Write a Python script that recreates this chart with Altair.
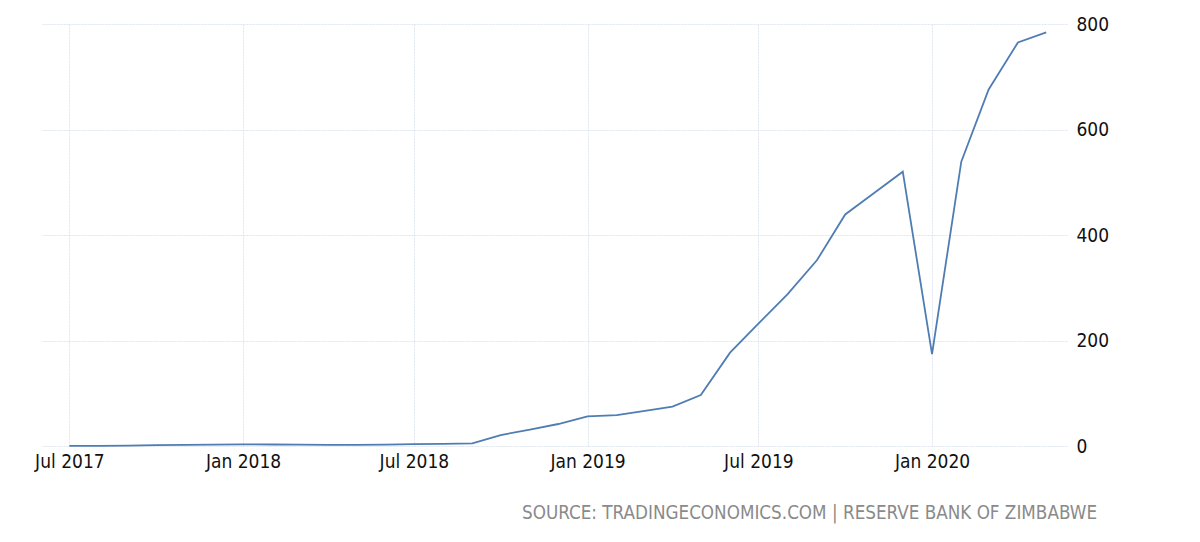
import altair as alt
import pandas as pd

months = [
    "2017-07-01", "2017-08-01", "2017-09-01", "2017-10-01", "2017-11-01", "2017-12-01",
    "2018-01-01", "2018-02-01", "2018-03-01", "2018-04-01", "2018-05-01", "2018-06-01",
    "2018-07-01", "2018-08-01", "2018-09-01", "2018-10-01", "2018-11-01", "2018-12-01",
    "2019-01-01", "2019-02-01", "2019-03-01", "2019-04-01", "2019-05-01", "2019-06-01",
    "2019-07-01", "2019-08-01", "2019-09-01", "2019-10-01", "2019-11-01", "2019-12-01",
    "2020-01-01", "2020-02-01", "2020-03-01", "2020-04-01", "2020-05-01",
]
values = [
    0.2, 0.4, 0.8, 1.5, 2.0, 2.5,
    3.0, 2.8, 2.5, 2.3, 2.3, 2.5,
    3.5, 4.0, 5.0, 20.8, 31.0, 41.7,
    56.0, 58.5, 66.0, 74.5, 96.5, 177.0,
    232.0, 288.0, 352.0, 439.0, 480.0, 520.0,
    174.0, 539.0, 676.0, 765.0, 784.0,
]
tick_dates = ["2017-07-01", "2018-01-01", "2018-07-01", "2019-01-01", "2019-07-01", "2020-01-01"]
y_ticks = [0, 200, 400, 600, 800]
source_text = ["SOURCE: TRADINGECONOMICS.COM | RESERVE BANK OF ZIMBABWE"]

df = pd.DataFrame({"date": pd.to_datetime(months), "value": values})

FONT = "DejaVu Sans Condensed"

tick_vals = [alt.DateTime(year=int(d[:4]), month=int(d[5:7]), date=1) for d in tick_dates]

line = alt.Chart(df).mark_line(color="#4f7db3", strokeWidth=1.8).encode(
    x=alt.X(
        "date:T",
        scale=alt.Scale(domain=[alt.DateTime(year=2017, month=6, date=2),
                                alt.DateTime(year=2020, month=5, date=23)]),
        axis=alt.Axis(
            values=tick_vals,
            format="%b %Y",
            title=None,
            labelFont=FONT,
            labelFontSize=19,
            labelColor="#111111",
            labelPadding=6,
            ticks=False,
            domain=False,
            grid=True,
            gridColor="#dfe6ef",
            gridDash=[2, 1],
            labelAlign="center",
        ),
    ),
    y=alt.Y(
        "value:Q",
        scale=alt.Scale(domain=[0, 800], nice=False),
        axis=alt.Axis(
            values=y_ticks,
            orient="right",
            title=None,
            labelFont=FONT,
            labelFontSize=19,
            labelColor="#111111",
            labelPadding=9,
            ticks=False,
            domain=False,
            grid=True,
            gridColor="#dfe6ef",
            gridDash=[2, 1],
        ),
    ),
)

src = alt.Chart(pd.DataFrame({"t": source_text})).mark_text(
    align="right", baseline="middle", font=FONT, fontSize=18.7, color="#8a8a8a"
).encode(
    text="t:N",
    x=alt.value(1055),
    y=alt.value(489),
)

chart = alt.layer(line, src).properties(
    width=1025,
    height=422,
    padding={"left": 34, "top": 16, "right": 100, "bottom": 80},
    autosize=alt.AutoSizeParams(type="none"),
).configure_view(stroke=None)

chart.save("out.html", embed_options={"renderer": "svg", "actions": False})
